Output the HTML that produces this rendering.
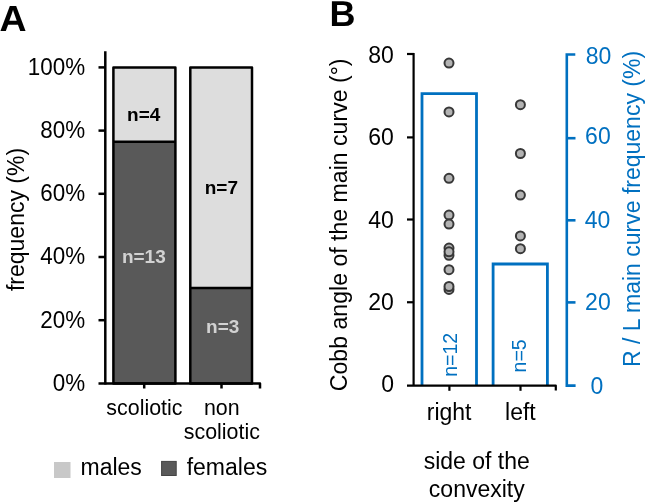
<!DOCTYPE html>
<html>
<head>
<meta charset="utf-8">
<style>
html,body{margin:0;padding:0;background:#fff;}
body{width:645px;height:502px;overflow:hidden;}
svg{display:block;will-change:transform;}
text{font-family:"Liberation Sans",sans-serif;}
</style>
</head>
<body>
<svg width="645" height="502" viewBox="0 0 645 502">
<!-- Panel A -->
<text transform="translate(-0.4,30.7) scale(1.035,1)" font-size="36.2" text-rendering="geometricPrecision" font-weight="bold" fill="#000">A</text>

<!-- bars A -->
<rect x="113.4" y="67.4" width="62" height="74.4" fill="#dddddd"/>
<rect x="113.4" y="141.8" width="62" height="241.7" fill="#595959"/>
<rect x="190.3" y="67.4" width="61.7" height="220.6" fill="#dddddd"/>
<rect x="190.3" y="288" width="61.7" height="95.5" fill="#595959"/>
<g fill="none" stroke="#000" stroke-width="2.5" stroke-linejoin="round">
<rect x="113.4" y="67.4" width="62" height="316.1"/>
<line x1="113.4" y1="141.8" x2="175.4" y2="141.8"/>
<rect x="190.3" y="67.4" width="61.7" height="316.1"/>
<line x1="190.3" y1="288" x2="252" y2="288"/>
</g>

<!-- axes A -->
<g stroke="#000" stroke-width="2.5" fill="none" stroke-linejoin="round" stroke-linecap="butt">
<line x1="105.3" y1="51.2" x2="105.3" y2="384.5"/>
<line x1="98.5" y1="67.4" x2="105.3" y2="67.4"/>
<line x1="98.5" y1="130.6" x2="105.3" y2="130.6"/>
<line x1="98.5" y1="193.8" x2="105.3" y2="193.8"/>
<line x1="98.5" y1="257" x2="105.3" y2="257"/>
<line x1="98.5" y1="320.2" x2="105.3" y2="320.2"/>
<polyline points="98.5,383.5 260,383.5 260,388.5"/>
<line x1="144.2" y1="383.5" x2="144.2" y2="388.5"/>
<line x1="221.5" y1="383.5" x2="221.5" y2="388.5"/>
</g>

<g font-size="23" fill="#000" text-anchor="end" transform="translate(85.2,0) scale(0.975,1) translate(-85.2,0)">
<text x="85.2" y="74.9">100%</text>
<text x="85.2" y="138">80%</text>
<text x="85.2" y="201.1">60%</text>
<text x="85.2" y="264.3">40%</text>
<text x="85.2" y="327.6">20%</text>
<text x="85.2" y="390.8">0%</text>
</g>
<text transform="translate(23.6,219.5) rotate(-90)" font-size="23" text-anchor="middle">frequency (%)</text>

<g font-size="19" font-weight="bold" text-anchor="middle">
<text x="143.7" y="121.1" fill="#000">n=4</text>
<text x="221.4" y="193.6" fill="#000">n=7</text>
<text x="143.8" y="262.6" fill="#d2d2d2">n=13</text>
<text x="222.7" y="333" fill="#d2d2d2">n=3</text>
</g>

<g font-size="21.4" text-anchor="middle" fill="#000">
<text x="144.4" y="415">scoliotic</text>
<text x="221.8" y="415.2">non</text>
<text x="221.8" y="439.4">scoliotic</text>
</g>

<rect x="54" y="462" width="16.5" height="16" fill="#c8c8c8"/>
<text x="80.5" y="474.8" font-size="23">males</text>
<rect x="161.6" y="461.4" width="14.6" height="14.1" fill="#595959" stroke="#444" stroke-width="1"/>
<text x="186.7" y="474.8" font-size="23">females</text>

<!-- Panel B -->
<text x="329.6" y="25.6" font-size="36" font-weight="bold" text-rendering="geometricPrecision" fill="#000">B</text>

<!-- blue bars -->
<g fill="none" stroke="#0070c0" stroke-width="2.8">
<polyline points="422,385 422,93.7 476.5,93.7 476.5,385"/>
<polyline points="493.1,385 493.1,264 547.4,264 547.4,385"/>
</g>

<!-- left axis B -->
<g stroke="#000" stroke-width="2.2">
<line x1="413.6" y1="53" x2="413.6" y2="386"/>
<line x1="407" y1="54" x2="414" y2="54"/>
<line x1="407" y1="137.4" x2="414" y2="137.4"/>
<line x1="407" y1="219.5" x2="414" y2="219.5"/>
<line x1="407" y1="302.25" x2="414" y2="302.25"/>
<polyline points="407,385.6 555.8,385.6 555.8,390.5" fill="none" stroke-linejoin="round"/>
<line x1="449.4" y1="385" x2="449.4" y2="390.8"/>
<line x1="520.5" y1="385" x2="520.5" y2="390.8"/>
</g>
<!-- right axis B -->
<g stroke="#0070c0" stroke-width="2.6" fill="none">
<polyline points="575.3,54.5 566.8,54.5 566.8,385.6 575.6,385.6"/>
<line x1="566" y1="138.2" x2="575.5" y2="138.2"/>
<line x1="566" y1="220.3" x2="575.5" y2="220.3"/>
<line x1="566" y1="302.4" x2="575.5" y2="302.4"/>
</g>

<g font-size="23" fill="#000" text-anchor="end">
<text x="393.9" y="62.5">80</text>
<text x="393.9" y="144.8">60</text>
<text x="393.9" y="227.6">40</text>
<text x="393.9" y="310.3">20</text>
<text x="394" y="392">0</text>
</g>
<g font-size="23" fill="#0070c0" text-anchor="middle">
<text x="598.6" y="64.2">80</text>
<text x="597.9" y="144.2">60</text>
<text x="597.6" y="227.8">40</text>
<text x="597.9" y="310.2">20</text>
<text x="596.9" y="394.1">0</text>
</g>
<text transform="translate(346.6,224.8) rotate(-90)" font-size="23.1" text-anchor="middle">Cobb angle of the main curve (°)</text>
<text transform="translate(639.7,209) rotate(-90)" font-size="23" text-anchor="middle" fill="#0070c0">R / L main curve frequency (%)</text>

<g font-size="19.5" fill="#0070c0" text-anchor="middle">
<text transform="translate(456.6,354.8) rotate(-90)">n=12</text>
<text transform="translate(525.8,355.9) rotate(-90)">n=5</text>
</g>

<g font-size="23" text-anchor="middle" fill="#000">
<text x="449.1" y="420.4">right</text>
<text x="520.4" y="420.4">left</text>
<text x="476.8" y="469.2">side of the</text>
<text x="476.8" y="497.2">convexity</text>
</g>

<!-- dots -->
<g fill="#b3b3b3" stroke="#383838" stroke-width="2">
<circle cx="449" cy="63.1" r="4.5"/>
<circle cx="449" cy="111.9" r="4.5"/>
<circle cx="449" cy="178.3" r="4.5"/>
<circle cx="449" cy="215.1" r="4.5"/>
<circle cx="449" cy="224.1" r="4.5"/>
<circle cx="449" cy="248.1" r="4.5"/>
<circle cx="449" cy="255.3" r="4.5"/>
<circle cx="449" cy="251.8" r="4.5"/>
<circle cx="449" cy="269.7" r="4.5"/>
<circle cx="449" cy="289.4" r="4.5"/>
<circle cx="449" cy="286.5" r="4.5"/>
<circle cx="520.4" cy="104.7" r="4.5"/>
<circle cx="520.4" cy="153.5" r="4.5"/>
<circle cx="520.4" cy="195.1" r="4.5"/>
<circle cx="520.4" cy="235.9" r="4.5"/>
<circle cx="520.4" cy="248.7" r="4.5"/>
</g>
</svg>
</body>
</html>
